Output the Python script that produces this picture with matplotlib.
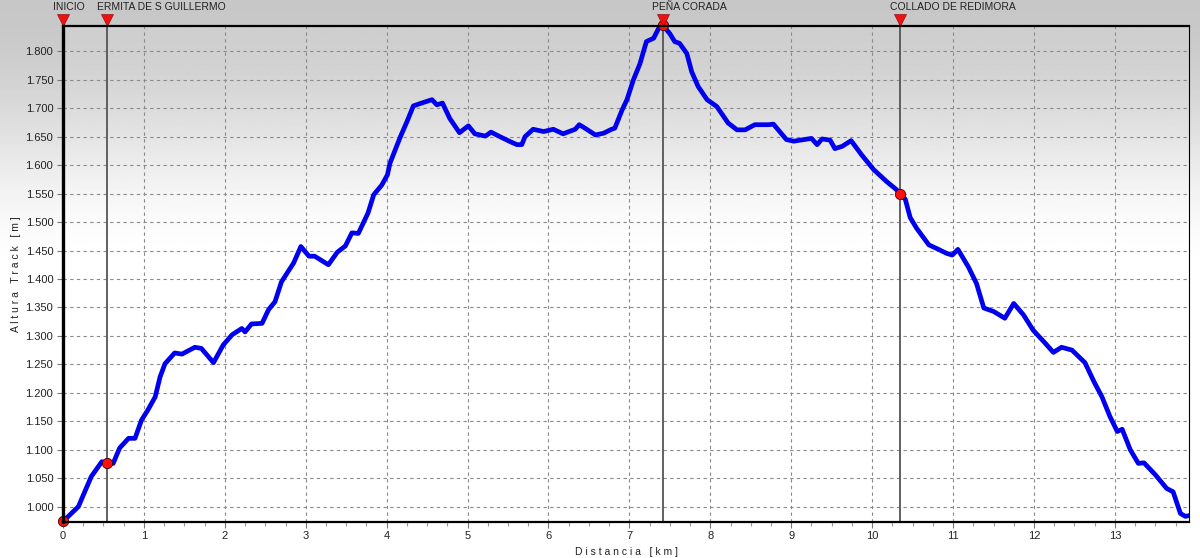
import numpy as np
import matplotlib.pyplot as plt
from matplotlib.ticker import MultipleLocator, FuncFormatter
import matplotlib.transforms as mtransforms

plt.rcParams['font.family'] = ['Liberation Sans', 'DejaVu Sans']

# elevation profile
dist_km = [0.00, 0.19, 0.35, 0.48, 0.54, 0.62, 0.70, 0.81, 0.89, 0.97,
           1.05, 1.14, 1.20, 1.26, 1.38, 1.47, 1.63, 1.71, 1.86, 1.98,
           2.09, 2.21, 2.25, 2.33, 2.46, 2.54, 2.62, 2.70, 2.85, 2.94,
           3.04, 3.11, 3.28, 3.39, 3.49, 3.57, 3.65, 3.77, 3.84, 3.94,
           4.01, 4.04, 4.17, 4.25, 4.33, 4.41, 4.56, 4.62, 4.69, 4.78,
           4.90, 5.01, 5.09, 5.22, 5.29, 5.40, 5.53, 5.61, 5.67, 5.71,
           5.81, 5.94, 6.06, 6.18, 6.33, 6.38, 6.45, 6.58, 6.68, 6.78,
           6.82, 6.91, 6.97, 7.05, 7.13, 7.21, 7.30, 7.36, 7.41, 7.50,
           7.56, 7.62, 7.71, 7.77, 7.85, 7.96, 8.08, 8.22, 8.33, 8.43,
           8.55, 8.72, 8.78, 8.94, 9.03, 9.25, 9.32, 9.38, 9.48, 9.54,
           9.63, 9.74, 9.87, 10.02, 10.18, 10.30, 10.35, 10.41, 10.47, 10.55,
           10.70, 10.82, 10.92, 10.99, 11.06, 11.19, 11.29, 11.38, 11.50, 11.64,
           11.75, 11.87, 11.99, 12.14, 12.24, 12.34, 12.47, 12.63, 12.74, 12.84,
           12.94, 13.03, 13.09, 13.19, 13.29, 13.36, 13.50, 13.64, 13.72, 13.81,
           13.87, 13.91]
elev_m = [974, 1000, 1053, 1079, 1076, 1076, 1103, 1120, 1120, 1152,
          1170, 1193, 1228, 1251, 1270, 1268, 1280, 1278, 1253, 1284,
          1302, 1313, 1307, 1321, 1322, 1346, 1360, 1395, 1428, 1457,
          1440, 1440, 1425, 1447, 1458, 1481, 1480, 1516, 1548, 1565,
          1583, 1603, 1650, 1676, 1704, 1708, 1715, 1706, 1709, 1682,
          1657, 1669, 1655, 1651, 1658, 1650, 1641, 1636, 1636, 1650,
          1663, 1659, 1663, 1655, 1663, 1671, 1665, 1653, 1656, 1663,
          1665, 1697, 1715, 1750, 1778, 1817, 1823, 1840, 1846, 1831,
          1817, 1814, 1796, 1764, 1738, 1715, 1703, 1674, 1662, 1662,
          1671, 1671, 1672, 1645, 1642, 1647, 1636, 1646, 1644, 1629,
          1633, 1643, 1618, 1592, 1571, 1557, 1549, 1540, 1508, 1489,
          1460, 1452, 1445, 1442, 1452, 1421, 1392, 1349, 1343, 1331,
          1357, 1337, 1310, 1287, 1271, 1280, 1275, 1253, 1220, 1193,
          1158, 1132, 1136, 1100, 1076, 1077, 1056, 1032, 1026, 988,
          983, 984]

# waypoints
wp_names = ['INICIO', 'ERMITA DE S GUILLERMO', 'PEÑA CORADA', 'COLLADO DE REDIMORA']
wp_km = [0.0, 0.54, 7.41, 10.35]
wp_elev = [974, 1076, 1846, 1549]


def vgradient(n, top, frac):
    # gray at the top fading to white at `frac` of the height
    t = np.clip(np.linspace(0, 1, n) / frac, 0, 1)
    s = top + (1 - top) * (t * t * (3 - 2 * t))
    return np.repeat(s[:, None], 2, axis=1)


fig = plt.figure(figsize=(12, 5.58), dpi=100)

bg = fig.add_axes([0, 0, 1, 1], zorder=-10)
bg.imshow(vgradient(558, 0.78, 0.50), cmap='gray', vmin=0, vmax=1,
          aspect='auto', extent=[0, 1, 0, 1])
bg.set_axis_off()

ax = fig.add_axes([0.0525, 0.065, 0.9386, 0.889])
ax.set_facecolor('none')
ax.imshow(vgradient(500, 0.81, 0.48), cmap='gray', vmin=0, vmax=1,
          aspect='auto', extent=[0, 1, 0, 1], transform=ax.transAxes, zorder=0)

ax.plot(dist_km, elev_m, color='#0000ee', lw=3.4, zorder=4, solid_joinstyle='round')

for km in wp_km[1:]:
    ax.axvline(km, color='#555555', lw=1.3, zorder=3)

ax.scatter(wp_km, wp_elev, s=55, color='#ff1010', edgecolor='#400000', lw=0.6,
           zorder=6, clip_on=False)

trans = mtransforms.blended_transform_factory(ax.transData, ax.transAxes)
for name, km in zip(wp_names, wp_km):
    ax.plot(km, 1.012, marker='v', color='#ee1111', markersize=9,
            markeredgecolor='#991111', markeredgewidth=0.5,
            transform=trans, clip_on=False, zorder=7)
    ax.text(km - 0.125, 1.037, name, transform=trans, ha='left', va='center',
            fontsize=7.5, color='#222222')

ax.set_xlim(0, 13.92)
ax.set_ylim(973.5, 1845)

ax.xaxis.set_major_locator(MultipleLocator(1))
ax.xaxis.set_minor_locator(MultipleLocator(0.25))
ax.yaxis.set_major_locator(MultipleLocator(50))
ax.yaxis.set_major_formatter(FuncFormatter(lambda v, p: f'{v/1000:.3f}'))

ax.grid(True, which='major', color='#8a8a8a', linestyle=(0, (3, 3)), lw=0.8)
ax.set_axisbelow(False)
for gl in ax.get_xgridlines() + ax.get_ygridlines():
    gl.set_zorder(1)

ax.tick_params(axis='both', which='major', labelsize=8, labelcolor='#222222',
               color='#777777', length=4, width=0.8, direction='out', pad=3)
ax.tick_params(axis='x', which='minor', color='#999999', length=3, width=0.8)

ax.spines['left'].set_linewidth(2.4)
ax.spines['bottom'].set_linewidth(1.6)
ax.spines['top'].set_linewidth(1.6)
ax.spines['right'].set_linewidth(0.8)
for sp in ax.spines.values():
    sp.set_zorder(8)

ax.set_xlabel('D i s t a n c i a   [ k m ]', fontsize=7.5, color='#222222', labelpad=4)
ax.set_ylabel('A l t u r a   T r a c k   [ m ]', fontsize=7.5, color='#222222', labelpad=3)

fig.savefig('out.png', dpi=100)
